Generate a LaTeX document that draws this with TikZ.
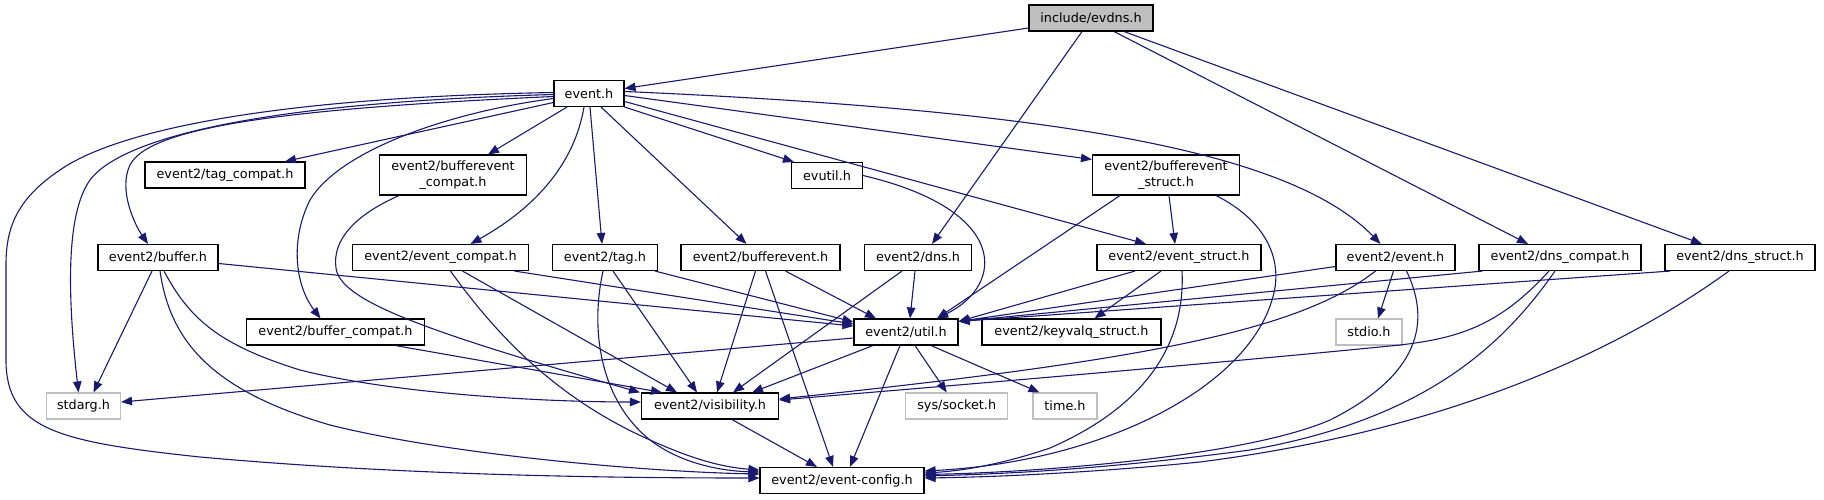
\documentclass[tikz,border=0pt]{standalone}
\usepackage{fontspec}
\setmainfont{DejaVu Sans}
\usetikzlibrary{arrows.meta}
\definecolor{edgec}{HTML}{191970}
\definecolor{grayb}{HTML}{BFBFBF}
\begin{document}
\begin{tikzpicture}[x=1pt,y=-1pt,
  box/.style={draw=black, line width=1.1pt, fill=white, minimum height=26pt, inner sep=0pt,
    font=\fontsize{12.8}{15.5}\selectfont, align=center},
  ghost/.style={box, draw=grayb},
  root/.style={box, fill=grayb},
  e/.style={draw=edgec, line width=1.1pt, -{Triangle[length=11pt,width=8.5pt]}},
]
\useasboundingbox (0,0) rectangle (1824,500);
% nodes
\node[root, minimum width=124pt] (evdns) at (1091,18) {include/evdns.h};
\node[box, minimum width=70pt] (eventh) at (589,93.5) {event.h};
\node[box, minimum width=160pt] (tagcompat) at (225,175) {event2/tag\_compat.h};
\node[box, minimum width=147pt, minimum height=40pt] (bevcompat) at (453,175) {event2/bufferevent\\\_compat.h};
\node[box, minimum width=71pt] (evutil) at (827,175.5) {evutil.h};
\node[box, minimum width=147pt, minimum height=40pt] (bevstruct) at (1166,175) {event2/bufferevent\\\_struct.h};
\node[box, minimum width=120pt] (buffer) at (158,257.5) {event2/buffer.h};
\node[box, minimum width=176pt] (evcompat) at (440.5,257.5) {event2/event\_compat.h};
\node[box, minimum width=105pt] (tag) at (605,257.5) {event2/tag.h};
\node[box, minimum width=159pt] (bev) at (760.5,257.5) {event2/bufferevent.h};
\node[box, minimum width=107pt] (dns) at (918,257.5) {event2/dns.h};
\node[box, minimum width=164pt] (evstruct) at (1179,257.5) {event2/event\_struct.h};
\node[box, minimum width=119pt] (event2) at (1395.5,257.5) {event2/event.h};
\node[box, minimum width=162pt] (dnscompat) at (1560,257.5) {event2/dns\_compat.h};
\node[box, minimum width=150pt] (dnsstruct) at (1740,257.5) {event2/dns\_struct.h};
\node[box, minimum width=178pt] (bufcompat) at (335.5,332) {event2/buffer\_compat.h};
\node[box, minimum width=104pt] (util) at (906,332) {event2/util.h};
\node[box, minimum width=179pt] (keyvalq) at (1071.5,332) {event2/keyvalq\_struct.h};
\node[ghost, minimum width=66pt] (stdio) at (1369,332) {stdio.h};
\node[ghost, minimum width=74pt] (stdarg) at (83.5,406) {stdarg.h};
\node[box, minimum width=137pt] (vis) at (710,406) {event2/visibility.h};
\node[ghost, minimum width=102pt] (socket) at (956.7,406) {sys/socket.h};
\node[ghost, minimum width=64pt] (time) at (1065,406) {time.h};
\node[box, minimum width=164pt] (config) at (842,480.5) {event2/event-config.h};
% edges from include/evdns.h
\draw[e] ([yshift=-10]evdns.west) -- ([yshift=5]eventh.east);
\draw[e] ([xshift=-9]evdns.south) -- ([xshift=14]dns.north);
\draw[e] ([xshift=23]evdns.south) -- ([xshift=-32]dnscompat.north);
\draw[e] ([xshift=33]evdns.south) -- ([xshift=-38]dnsstruct.north);
% edges from event.h
\draw[e] (eventh.south east) -- ([xshift=3]evutil.north west);
\draw[e] ([yshift=-2]eventh.east) -- ([yshift=-5]bevstruct.north west);
\draw[e] ([yshift=-8]eventh.east) -- ([xshift=-33]evstruct.north);
\draw[e] ([yshift=2]eventh.east) .. controls (1050,110) and (1290,150) .. ([xshift=-15]event2.north);
\draw[e] ([xshift=1]eventh.south) -- ([xshift=-3]tag.north);
\draw[e] ([xshift=12]eventh.south) -- ([xshift=-14]bev.north);
\draw[e] ([xshift=-22]eventh.south) -- ([xshift=35]bevcompat.north);
\draw[e] ([yshift=-9]eventh.west) -- ([xshift=60]tagcompat.north);
\draw[e] ([xshift=-5]eventh.south) .. controls (575,160) and (540,205) .. ([xshift=30]evcompat.north);
\draw[e] ([yshift=-5]eventh.west) .. controls (450,112) and (340,150) .. (310,200)
  .. controls (290,240) and (295,285) .. ([xshift=-15]bufcompat.north);
\draw[e] ([yshift=-3]eventh.west) .. controls (300,108) and (150,125) .. (130,165)
  .. controls (118,190) and (135,225) .. ([xshift=-10]buffer.north);
\draw[e] ([yshift=-1]eventh.west) .. controls (250,103) and (120,140) .. (90,180)
  .. controls (65,215) and (68,300) .. ([xshift=-5]stdarg.north);
\draw[e] ([yshift=1]eventh.west) .. controls (250,98) and (110,135) .. (60,170)
  .. controls (15,200) and (6,230) .. (6,265) -- (6,360)
  .. controls (6,430) and (60,442) .. (200,457)
  .. controls (400,475) and (600,478) .. ([yshift=2.5]config.west);
% second row sources
\draw[e] ([xshift=-54]bevcompat.south) .. controls (355,215) and (332,240) .. (336,268)
  .. controls (340,300) and (420,330) .. ([xshift=-70]vis.north);
\draw[e] ([xshift=-46]bevstruct.south) -- ([xshift=31]util.north);
\draw[e] ([xshift=3]bevstruct.south) -- ([xshift=-4]evstruct.north);
\draw[e] ([xshift=50]bevstruct.south) .. controls (1265,220) and (1285,260) .. (1272,300)
  .. controls (1245,390) and (1100,462) .. ([yshift=9.5]config.east);
\draw[e] (evutil.east) .. controls (1010,210) and (1005,285) .. ([xshift=31]util.north);
% event2/buffer.h
\draw[e] ([xshift=-6]buffer.south) -- ([xshift=10]stdarg.north);
\draw[e] ([yshift=-6]buffer.east) -- ([yshift=6]util.west);
\draw[e] ([xshift=6]buffer.south) .. controls (190,320) and (220,345) .. (300,370)
  .. controls (400,395) and (550,402) .. ([yshift=4]vis.west);
\draw[e] ([xshift=2]buffer.south) .. controls (170,340) and (210,390) .. (330,425)
  .. controls (450,455) and (650,472) .. ([yshift=6.5]config.west);
% event2/event_compat.h
\draw[e] ([xshift=74]evcompat.south) -- ([yshift=8]util.west);
\draw[e] ([xshift=22]evcompat.south) -- ([xshift=-33]vis.north);
\draw[e] ([xshift=10]evcompat.south) .. controls (500,340) and (560,400) .. (650,440)
  .. controls (690,458) and (720,467) .. ([yshift=10.5]config.west);
% event2/tag.h
\draw[e] ([xshift=50]tag.south) -- ([yshift=10]util.west);
\draw[e] ([xshift=8]tag.south) -- ([xshift=-13]vis.north);
\draw[e] ([xshift=-2]tag.south) .. controls (590,330) and (600,400) .. (650,440)
  .. controls (680,463) and (720,471) .. ([yshift=8.5]config.west);
% event2/bufferevent.h
\draw[e] ([xshift=25]bev.south) -- ([xshift=-30]util.north);
\draw[e] ([xshift=-5]bev.south) -- ([xshift=7]vis.north);
\draw[e] ([xshift=5]bev.south) -- ([xshift=-9]config.north);
% event2/dns.h
\draw[e] ([xshift=-3]dns.south) -- ([xshift=4]util.north);
\draw[e] ([xshift=-16]dns.south) -- ([xshift=23]vis.north);
% event2/event_struct.h
\draw[e] ([xshift=-44]evstruct.south) -- ([yshift=-3]util.north east);
\draw[e] ([xshift=-18]evstruct.south) -- ([xshift=23]keyvalq.north);
\draw[e] ([xshift=3]evstruct.south) .. controls (1185,330) and (1160,400) .. (1050,448)
  .. controls (1000,465) and (960,471) .. ([yshift=7.5]config.east);
% event2/event.h
\draw[e] ([yshift=-9]event2.west) -- ([yshift=-3]util.north east);
\draw[e] ([xshift=-20]event2.south) .. controls (1300,330) and (1150,360) .. ([yshift=7]vis.east);
\draw[e] ([xshift=-2]event2.south) -- ([xshift=9]stdio.north);
\draw[e] ([xshift=11]event2.south) .. controls (1435,330) and (1410,380) .. (1330,420)
  .. controls (1250,455) and (1050,472) .. ([yshift=6]config.east);
% event2/dns_compat.h
\draw[e] ([xshift=4]dnscompat.south west) -- ([yshift=-3]util.north east);
\draw[e] ([xshift=-11]dnscompat.south) .. controls (1500,325) and (1460,338) .. (1400,345)
  .. controls (1200,365) and (900,390) .. ([yshift=6]vis.east);
\draw[e] ([xshift=-5]dnscompat.south) .. controls (1500,350) and (1420,420) .. (1250,450)
  .. controls (1100,470) and (1000,474) .. ([yshift=4.5]config.east);
% event2/dns_struct.h
\draw[e] ([xshift=6]dnsstruct.south west) -- ([yshift=-3]util.north east);
\draw[e] ([xshift=-11]dnsstruct.south) .. controls (1620,350) and (1450,430) .. (1200,462)
  .. controls (1100,472) and (1000,477) .. ([yshift=2.5]config.east);
% event2/buffer_compat.h
\draw[e] ([xshift=60]bufcompat.south) -- ([xshift=-48]vis.north);
% event2/util.h
\draw[e] ([yshift=-6]util.west) -- ([yshift=4]stdarg.east);
\draw[e] ([xshift=-33]util.south) -- ([xshift=42]vis.north);
\draw[e] ([xshift=-6]util.south) -- ([xshift=8]config.north);
\draw[e] ([xshift=9]util.south) -- ([xshift=-10]socket.north);
\draw[e] ([xshift=25]util.south) -- ([xshift=7]time.north west);
% event2/visibility.h
\draw[e] ([xshift=22]vis.south) -- ([xshift=-25]config.north);
\end{tikzpicture}
\end{document}
